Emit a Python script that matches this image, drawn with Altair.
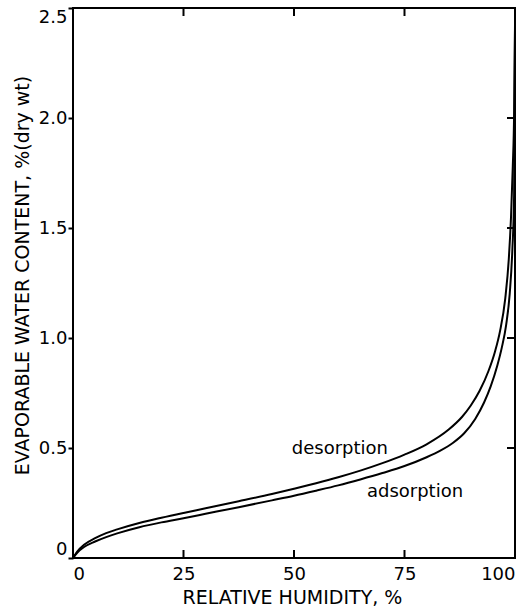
import altair as alt
import pandas as pd

# Relative humidity (%) and evaporable water content (% dry wt)
rh_desorption = [0, 1, 2.5, 5, 7.5, 10, 15, 20, 25, 30, 37.5, 45, 50, 55, 60, 65,
                 70, 75, 80, 85, 88, 90, 92, 94, 95.5, 96.6, 97.8, 98.6, 99.1,
                 99.5, 99.8, 100]
w_desorption = [0, 0.03, 0.06, 0.09, 0.113, 0.13, 0.159, 0.183, 0.205, 0.226,
                0.258, 0.291, 0.315, 0.34, 0.367, 0.397, 0.431, 0.47, 0.517,
                0.584, 0.641, 0.693, 0.76, 0.85, 0.94, 1.03, 1.18, 1.36, 1.55,
                1.78, 2.02, 2.42]

rh_adsorption = [0, 1, 2.5, 5, 7.5, 10, 15, 20, 25, 30, 37.5, 45, 50, 55, 60, 65,
                 70, 75, 80, 83, 86, 88.5, 91, 93, 94.5, 96, 97, 98, 98.8, 99.4,
                 99.8, 100]
w_adsorption = [0, 0.025, 0.05, 0.075, 0.095, 0.112, 0.14, 0.162, 0.181, 0.201,
                0.231, 0.262, 0.283, 0.306, 0.33, 0.357, 0.386, 0.418, 0.458,
                0.487, 0.524, 0.567, 0.632, 0.707, 0.78, 0.875, 0.955, 1.06,
                1.2, 1.4, 1.65, 2.4]

x_ticks = [0, 25, 50, 75, 100]
y_ticks = [0, 0.5, 1.0, 1.5, 2.0, 2.5]
inner_x_ticks = [25, 50, 75]
inner_y_ticks = [0.5, 1.0, 1.5, 2.0]

curve_labels = ["desorption", "adsorption"]
label_rh = [49.5, 66.5]
label_w = [0.472, 0.277]

W, H = 442, 550
FONT = "DejaVu Sans"

curves = pd.concat([
    pd.DataFrame({"rh": rh_desorption, "w": w_desorption, "branch": "desorption"}),
    pd.DataFrame({"rh": rh_adsorption, "w": w_adsorption, "branch": "adsorption"}),
])
labels = pd.DataFrame({"rh": label_rh, "w": label_w, "text": curve_labels})
xt = pd.DataFrame({"rh": inner_x_ticks})
yt = pd.DataFrame({"w": inner_y_ticks})

x_scale = alt.Scale(domain=[0, 100], nice=False, zero=False)
y_scale = alt.Scale(domain=[0, 2.5], nice=False, zero=False)

x_axis = alt.Axis(
    title="RELATIVE HUMIDITY, %", values=x_ticks, ticks=False, domain=False,
    grid=False, labelFlush=True, labelPadding=7, labelFontSize=18,
    labelFont=FONT, labelColor="black", titleFont=FONT, titleFontSize=19,
    titleFontWeight="normal", titleColor="black", titleX=219, titleY=45,
    titleAlign="center", titleBaseline="alphabetic",
)
y_axis = alt.Axis(
    title="EVAPORABLE WATER CONTENT, %(dry wt)", values=y_ticks,
    labelExpr="datum.value == 0 ? '0' : format(datum.value, '.1f')",
    tickSize=5, tickWidth=2, tickColor="black", domain=False, grid=False,
    labelFlush=True, labelPadding=1, labelFontSize=18, labelFont=FONT,
    labelColor="black", titleFont=FONT, titleFontSize=19,
    titleFontWeight="normal", titleColor="black", titleAngle=270,
    titleX=-45, titleY=267, titleAlign="center", titleBaseline="alphabetic",
)

lines = alt.Chart(curves).mark_line(
    color="black", strokeWidth=2, interpolate="monotone"
).encode(
    x=alt.X("rh:Q", scale=x_scale, axis=x_axis),
    y=alt.Y("w:Q", scale=y_scale, axis=y_axis),
    detail="branch:N",
)

text = alt.Chart(labels).mark_text(
    align="left", baseline="alphabetic", font=FONT, fontSize=18, color="black"
).encode(x=alt.X("rh:Q", scale=x_scale), y=alt.Y("w:Q", scale=y_scale), text="text:N")

bottom_ticks = alt.Chart(xt).mark_rule(color="black", strokeWidth=2).encode(
    x=alt.X("rh:Q", scale=x_scale), y=alt.value(H), y2=alt.value(H - 8)
)
top_ticks = alt.Chart(xt).mark_rule(color="black", strokeWidth=2).encode(
    x=alt.X("rh:Q", scale=x_scale), y=alt.value(0), y2=alt.value(8)
)
right_ticks = alt.Chart(yt).mark_rule(color="black", strokeWidth=2).encode(
    y=alt.Y("w:Q", scale=y_scale), x=alt.value(W), x2=alt.value(W - 8)
)

chart = alt.layer(lines, text, bottom_ticks, top_ticks, right_ticks).properties(
    width=W, height=H,
    autosize=alt.AutoSizeParams(type="none"),
    padding={"left": 73, "top": 8, "right": 8, "bottom": 51},
    background="white",
).configure_view(stroke="black", strokeWidth=2)

chart.save("out.html", embed_options={"renderer": "svg", "actions": False})
